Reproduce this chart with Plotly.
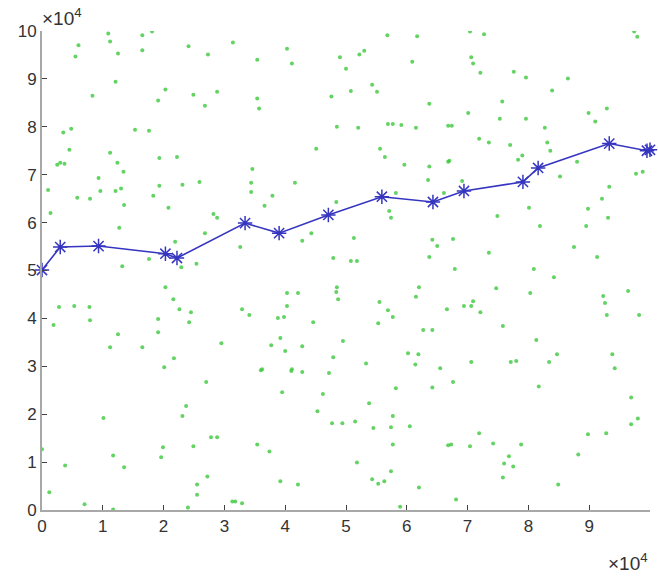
import plotly.graph_objects as go

# Scatter points (units of 1e4)
dot_x = [
    1.09, 1.12, 1.65, 1.81, 0.60, 0.55, 1.25, 1.65, 2.41, 2.73, 3.14, 1.21, 0.83, 2.03, 1.91, 2.49, 2.68, 2.88,
    0.35, 0.48, 1.53, 1.76, 0.45, 0.25, 0.30, 0.37, 1.12, 1.24, 1.34, 1.93, 2.22, 0.93, 0.10, 0.96, 1.21, 1.30,
    1.93, 2.31, 2.59, 0.58, 0.79, 1.83,
    4.03, 3.54, 4.11, 4.90, 5.00, 5.22, 5.30, 5.68, 6.17, 6.09, 3.54, 3.57, 4.76, 5.08, 5.43, 5.51, 6.37, 4.85,
    5.20, 5.69, 5.77, 5.91, 6.15, 6.68, 4.51, 5.56, 5.64, 5.96, 6.37, 6.68, 3.46, 3.44, 3.44, 4.16, 3.79, 6.35,
    5.82, 6.61,
    7.04, 7.27, 9.74, 9.79, 7.06, 7.09, 7.21, 7.76, 7.96, 8.65, 8.39, 7.57, 7.01, 6.74, 7.53, 7.96, 8.27, 8.99,
    9.10, 9.29, 7.19, 7.35, 7.70, 8.31, 8.36, 7.90, 7.83, 6.70, 8.80, 8.52, 6.91, 9.33, 9.77, 9.88, 9.21,
    1.35, 0.14, 2.08, 2.82, 2.88, 2.68, 1.27, 2.19, 1.76, 1.32, 2.29, 2.54, 3.26, 0.28, 0.53, 0.78, 0.19, 0.79,
    2.03, 2.16, 2.26, 2.45, 1.91, 2.42, 1.91, 1.25, 1.12, 1.65, 2.95, 2.17, 2.01,
    3.66, 4.84, 5.71, 5.74, 4.43, 4.28, 5.13, 6.42, 6.50, 6.37, 4.79, 5.08, 5.18, 6.20, 6.15, 4.85, 4.84, 4.87,
    4.03, 4.21, 4.03, 3.29, 3.41, 3.88, 3.98, 4.46, 5.55, 5.69, 5.77, 5.53, 6.66, 6.27, 6.42, 3.92, 3.77, 4.28,
    4.95, 4.00, 4.79, 5.33, 6.02, 6.19, 6.14, 3.62, 4.11, 6.55,
    8.01, 8.98, 9.31, 7.49, 8.19, 8.95, 6.76, 8.75, 7.35, 9.13, 6.79, 8.09, 8.42, 7.47, 8.03, 9.64, 9.23, 9.26,
    7.09, 6.94, 7.06, 7.21, 9.29, 9.82, 7.58, 8.13, 8.47, 9.38, 7.06, 7.71, 7.80, 8.34, 9.42,
    2.70, 2.37, 2.31, 1.01, 0.00, 1.99, 1.96, 1.17, 1.35, 0.38, 2.49, 2.78, 2.88, 2.72, 2.55, 2.55, 0.12, 0.70,
    1.17, 2.40, 3.13, 3.18,
    3.60, 4.10, 4.28, 4.72, 3.95, 4.62, 5.82, 6.42, 5.38, 4.53, 5.77, 4.77, 4.94, 5.15, 5.45, 5.74, 6.05, 3.54,
    3.74, 5.77, 6.68, 5.18, 5.74, 5.43, 5.53, 5.63, 6.20, 3.92, 4.21, 3.29, 5.89,
    6.76, 8.17, 9.69, 9.80, 9.69, 8.98, 9.28, 7.19, 6.73, 7.04, 7.42, 7.88, 8.82, 7.68, 7.60, 7.75, 7.58, 8.49,
    6.81,
]
dot_y = [
    9.95, 9.78, 9.91, 9.99, 9.70, 9.47, 9.53, 9.60, 9.68, 9.51, 9.76, 8.94, 8.65, 8.78, 8.55, 8.67, 8.44, 8.73,
    7.88, 7.96, 7.94, 7.92, 7.52, 7.21, 7.25, 7.23, 7.46, 7.25, 7.06, 7.35, 7.37, 6.93, 6.68, 6.66, 6.66, 6.71,
    6.77, 6.79, 6.85, 6.52, 6.50, 6.56,
    9.63, 9.40, 9.32, 9.45, 9.21, 9.51, 9.59, 9.91, 9.89, 9.36, 8.59, 8.38, 8.63, 8.75, 8.88, 8.73, 8.48, 8.00,
    7.98, 8.06, 8.06, 8.04, 7.98, 8.02, 7.54, 7.54, 7.37, 7.21, 7.17, 7.27, 7.12, 6.83, 6.64, 6.83, 6.56, 6.89,
    6.62, 6.62,
    9.99, 9.93, 9.99, 9.88, 9.45, 9.32, 9.13, 9.15, 9.03, 9.01, 8.76, 8.53, 8.29, 8.02, 8.17, 8.17, 7.98, 8.29,
    8.11, 8.38, 7.75, 7.67, 7.62, 7.67, 7.50, 7.40, 7.31, 7.29, 7.27, 6.96, 6.87, 6.75, 7.02, 7.06, 6.50,
    6.37, 6.20, 6.31, 6.18, 6.10, 5.78, 5.89, 5.60, 5.24, 5.09, 5.07, 5.14, 5.49, 4.24, 4.26, 4.24, 3.86, 3.96,
    4.65, 4.40, 4.19, 4.13, 3.99, 3.92, 3.71, 3.67, 3.40, 3.40, 3.48, 3.17, 2.98,
    6.35, 6.43, 6.24, 6.10, 5.78, 5.62, 5.68, 5.64, 5.51, 5.28, 5.26, 5.20, 5.20, 4.65, 4.45, 4.65, 4.55, 4.40,
    4.53, 4.53, 4.26, 4.19, 4.07, 4.01, 4.03, 3.92, 4.34, 4.17, 4.03, 3.90, 4.19, 3.76, 3.76, 3.59, 3.44, 3.42,
    3.53, 3.32, 3.19, 3.06, 3.27, 3.25, 3.04, 2.94, 2.94, 2.96,
    6.31, 6.29, 6.10, 6.14, 5.93, 5.93, 5.66, 5.49, 5.37, 5.28, 5.03, 5.03, 4.86, 4.63, 4.53, 4.57, 4.47, 4.32,
    4.36, 4.26, 4.26, 4.13, 4.07, 4.07, 3.84, 3.55, 3.25, 3.25, 3.09, 3.09, 3.11, 3.09, 2.96,
    2.67, 2.17, 1.96, 1.92, 1.27, 1.31, 1.10, 1.14, 0.89, 0.93, 1.33, 1.52, 1.52, 0.70, 0.53, 0.32, 0.37, 0.12,
    0.01, 0.05, 0.18, 0.18,
    2.92, 2.90, 2.88, 2.86, 2.46, 2.42, 2.54, 2.56, 2.23, 2.06, 1.96, 1.81, 1.81, 1.85, 1.71, 1.73, 1.75, 1.37,
    1.22, 1.37, 1.35, 0.99, 0.81, 0.64, 0.55, 0.60, 0.47, 0.60, 0.53, 0.14, 0.07,
    2.67, 2.58, 2.35, 1.91, 1.79, 1.58, 1.60, 1.60, 1.37, 1.33, 1.39, 1.37, 1.16, 1.12, 0.97, 0.91, 0.68, 0.53,
    0.22,
]

# Path (units of 1e4)
path_x = [0.00, 0.30, 0.93, 2.03, 2.22, 3.34, 3.90, 4.71, 5.59, 6.43, 6.94, 7.91, 8.16, 9.33, 9.95, 10.00]
path_y = [5.01, 5.49, 5.51, 5.35, 5.26, 5.99, 5.78, 6.16, 6.54, 6.43, 6.66, 6.85, 7.14, 7.65, 7.50, 7.52]

tick_vals = list(range(0, 11))
tick_text = [str(v) for v in tick_vals]

FONT = "Liberation Sans, Arial, sans-serif"

fig = go.Figure()
fig.add_trace(go.Scatter(
    x=dot_x, y=dot_y, mode="markers",
    marker=dict(color="rgba(60,200,60,0.8)", size=4, line=dict(width=0)),
    hoverinfo="skip", showlegend=False,
))
fig.add_trace(go.Scatter(
    x=path_x, y=path_y, mode="lines+markers",
    line=dict(color="#3535c0", width=1.6),
    marker=dict(symbol="asterisk-open", size=12, color="#3535c0",
                line=dict(color="#3535c0", width=1.5)),
    showlegend=False, cliponaxis=False,
))

axis_common = dict(
    range=[0, 10], tickvals=tick_vals, ticktext=tick_text,
    showgrid=False, zeroline=False, showline=True, linecolor="#a8a8a8", linewidth=2,
    ticks="inside", ticklen=5, tickcolor="#404040", tickwidth=1,
    tickfont=dict(family=FONT, size=17, color="#333333"),
    mirror=False, fixedrange=True,
)

fig.update_layout(
    width=658, height=576,
    margin=dict(l=42, r=8, t=31, b=66),
    paper_bgcolor="white", plot_bgcolor="white",
    xaxis=dict(**axis_common),
    yaxis=dict(**axis_common),
    annotations=[
        dict(text="×10<sup>4</sup>", xref="paper", yref="paper", x=0.0, y=1.0,
             xanchor="left", yanchor="bottom", showarrow=False, yshift=0, xshift=-2,
             font=dict(family=FONT, size=19, color="#333333")),
        dict(text="×10<sup>4</sup>", xref="paper", yref="paper", x=1.0, y=0.0,
             xanchor="right", yanchor="top", showarrow=False, yshift=-38, xshift=0,
             font=dict(family=FONT, size=19, color="#333333")),
    ],
)

fig.write_html("out.html", config={"displayModeBar": False})
